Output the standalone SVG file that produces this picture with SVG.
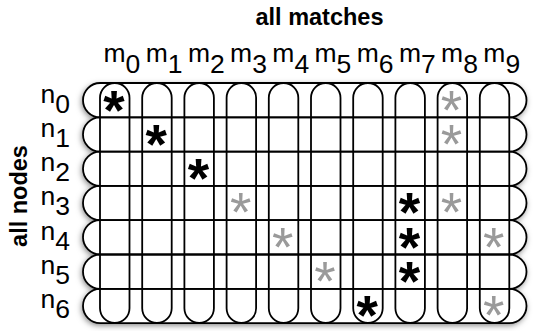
<svg xmlns="http://www.w3.org/2000/svg" width="534" height="331" viewBox="0 0 534 331">
<defs>
<style>
.fill{fill:#fff;stroke:none}
.edge{fill:none;stroke:#000;stroke-width:1.8}
.lbl{font-family:"Liberation Sans",Arial,sans-serif;font-size:26.5px;fill:#000}
.title{font-family:"Liberation Sans",Arial,sans-serif;font-size:23.5px;font-weight:bold;fill:#000;text-anchor:middle}
.star{font-family:"Liberation Sans",Arial,sans-serif;font-size:55px;text-anchor:middle}
.blk{fill:#000;font-weight:bold}
.gry{fill:#9a9a9a}
</style>
<filter id="sh" x="-10%" y="-10%" width="120%" height="120%">
<feDropShadow dx="-1" dy="2" stdDeviation="3" flood-color="#000" flood-opacity="0.55"/>
</filter>
<rect id="rowshape" x="83" y="0" width="443.5" height="34.3" rx="17.15"/>
<rect id="colshape" x="0" y="83" width="29.5" height="240" rx="14.75"/>
</defs>
<text class="title" x="319.5" y="25">all matches</text>
<text class="title" transform="translate(27,196) rotate(-90)">all nodes</text>
<g id="backdrop" filter="url(#sh)" class="fill">
<use href="#rowshape" y="83"/><use href="#rowshape" y="117.3"/><use href="#rowshape" y="151.6"/><use href="#rowshape" y="185.9"/><use href="#rowshape" y="220.2"/><use href="#rowshape" y="254.5"/><use href="#rowshape" y="288.8"/>
<use href="#colshape" x="100"/><use href="#colshape" x="142.2"/><use href="#colshape" x="184.4"/><use href="#colshape" x="226.6"/><use href="#colshape" x="268.8"/><use href="#colshape" x="311"/><use href="#colshape" x="353.2"/><use href="#colshape" x="395.4"/><use href="#colshape" x="437.6"/><use href="#colshape" x="479.8"/>
</g>
<g id="n0"><use class="edge" href="#rowshape" y="83"/><text class="lbl" x="40.5" y="102.5">n<tspan dy="10">0</tspan></text></g>
<g id="n1"><use class="edge" href="#rowshape" y="117.3"/><text class="lbl" x="40.5" y="136.8">n<tspan dy="10">1</tspan></text></g>
<g id="n2"><use class="edge" href="#rowshape" y="151.6"/><text class="lbl" x="40.5" y="171.1">n<tspan dy="10">2</tspan></text></g>
<g id="n3"><use class="edge" href="#rowshape" y="185.9"/><text class="lbl" x="40.5" y="205.4">n<tspan dy="10">3</tspan></text></g>
<g id="n4"><use class="edge" href="#rowshape" y="220.2"/><text class="lbl" x="40.5" y="239.7">n<tspan dy="10">4</tspan></text></g>
<g id="n5"><use class="edge" href="#rowshape" y="254.5"/><text class="lbl" x="40.5" y="274">n<tspan dy="10">5</tspan></text></g>
<g id="n6"><use class="edge" href="#rowshape" y="288.8"/><text class="lbl" x="40.5" y="308.3">n<tspan dy="10">6</tspan></text></g>
<g id="m0"><use class="edge" href="#colshape" x="100"/><text class="lbl" x="103.5" y="62">m<tspan dy="11">0</tspan></text></g>
<g id="m1"><use class="edge" href="#colshape" x="142.2"/><text class="lbl" x="145.7" y="62">m<tspan dy="11">1</tspan></text></g>
<g id="m2"><use class="edge" href="#colshape" x="184.4"/><text class="lbl" x="187.9" y="62">m<tspan dy="11">2</tspan></text></g>
<g id="m3"><use class="edge" href="#colshape" x="226.6"/><text class="lbl" x="230.1" y="62">m<tspan dy="11">3</tspan></text></g>
<g id="m4"><use class="edge" href="#colshape" x="268.8"/><text class="lbl" x="272.3" y="62">m<tspan dy="11">4</tspan></text></g>
<g id="m5"><use class="edge" href="#colshape" x="311"/><text class="lbl" x="314.5" y="62">m<tspan dy="11">5</tspan></text></g>
<g id="m6"><use class="edge" href="#colshape" x="353.2"/><text class="lbl" x="356.7" y="62">m<tspan dy="11">6</tspan></text></g>
<g id="m7"><use class="edge" href="#colshape" x="395.4"/><text class="lbl" x="398.9" y="62">m<tspan dy="11">7</tspan></text></g>
<g id="m8"><use class="edge" href="#colshape" x="437.6"/><text class="lbl" x="441.1" y="62">m<tspan dy="11">8</tspan></text></g>
<g id="m9"><use class="edge" href="#colshape" x="479.8"/><text class="lbl" x="483.3" y="62">m<tspan dy="11">9</tspan></text></g>
<g id="marks" class="star">
<text class="blk" x="114" y="128.5">*</text>
<text class="gry" x="451.5" y="128.5">*</text>
<text class="blk" x="156.2" y="162.8">*</text>
<text class="gry" x="451.5" y="162.8">*</text>
<text class="blk" x="198.4" y="197.1">*</text>
<text class="gry" x="240.6" y="231.4">*</text>
<text class="blk" x="409.4" y="231.4">*</text>
<text class="gry" x="451.5" y="231.4">*</text>
<text class="gry" x="282.8" y="265.7">*</text>
<text class="blk" x="409.4" y="265.7">*</text>
<text class="gry" x="493.8" y="265.7">*</text>
<text class="gry" x="325" y="300">*</text>
<text class="blk" x="409.4" y="300">*</text>
<text class="blk" x="367.2" y="334.3">*</text>
<text class="gry" x="493.8" y="334.3">*</text>
</g>
</svg>
